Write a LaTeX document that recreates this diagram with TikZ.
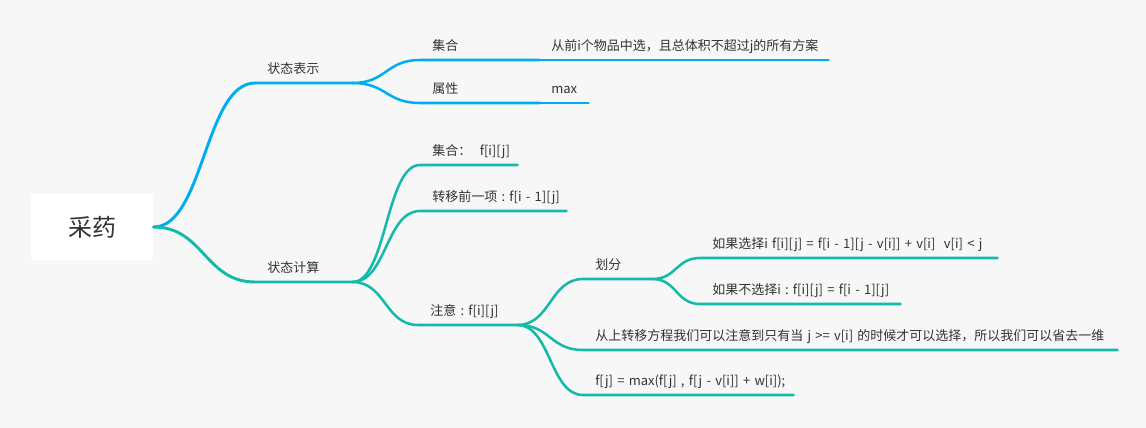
\documentclass[tikz,border=0pt]{standalone}
\usepackage{fontspec}
\setmainfont{Noto Sans CJK SC}
\usepackage{xcolor}
\usepackage{tikz}
\usetikzlibrary{positioning}

\definecolor{paper}{RGB}{247,247,247}
\definecolor{inkgray}{RGB}{51,51,51}
\definecolor{mapblue}{RGB}{0,174,239}
\definecolor{mapteal}{RGB}{20,185,170}

\newcommand{\widespaces}{\spaceskip 3.2pt\relax}

\begin{document}
\begin{tikzpicture}[
        x=0.75pt, y=-0.75pt,
        every node/.style={font=\fontsize{9.75pt}{12pt}\selectfont, text=inkgray},
        root/.style={fill=white, rounded corners=3pt, minimum width=92pt, minimum height=50pt, font=\fontsize{18pt}{22pt}\selectfont},
        topic/.style={anchor=south west, inner xsep=9pt, inner ysep=5pt, text height=8pt, text depth=2pt,
            execute at begin node={\hbox to #1\bgroup\widespaces}, execute at end node={\hss\egroup}},
        bluebranch/.style={draw=mapblue, line width=1.9pt, line cap=round},
        tealbranch/.style={draw=mapteal, line width=1.9pt, line cap=round},
    ]
        % Background
        \useasboundingbox (0,0) rectangle (1146,428);
        \fill[paper] (0,0) rectangle (1146,428);

        % Root
        \node (root) [root] at (92,227) {采药};

        % Upper branch
        \node (repr) [topic=54.75pt] at (255,83) {状态表示};
        \node (set) [topic=71.25pt] at (420,60) {集合};
        \node (setdesc) [topic=198.75pt] at (539,60) {从前i个物品中选，且总体积不超过j的所有方案};
        \node (attr) [topic=71.25pt] at (420,103) {属性};
        \node (attrval) [topic=18.75pt] at (539,103) {max};

        % Lower branch
        \node (calc) [topic=54.75pt] at (255,282) {状态计算};
        \node (calcset) [topic=54.75pt] at (420,165) {集合：~~f[i][j]};
        \node (prev) [topic=91.5pt] at (420,211) {转移前一项~:~f[i~-~1][j]};
        \node (note) [topic=56.25pt] at (418,325) {注意~:~f[i][j]};
        \node (split) [topic=33.75pt] at (583,279) {划分};
        \node (pick) [topic=204.75pt] at (700,258) {如果选择i~f[i][j]~=~f[i~-~1][j~-~v[i]]~+~v[i]~~v[i]~<~j};
        \node (skip) [topic=132pt] at (700,304) {如果不选择i~:~f[i][j]~=~f[i~-~1][j]};
        \node (hint) [topic=382.5pt] at (583,350) {从上转移方程我们可以注意到只有当~j~>=~v[i]~的时候才可以选择，所以我们可以省去一维};
        \node (final) [topic=139.5pt] at (583,395) {f[j]~=~max(f[j]~,~f[j~-~v[i]]~+~w[i]);};

        % --- Connectors ---
        % Root to the two main topics
        \draw [bluebranch, line width=2.2pt] (root.east) .. controls +(50,0) and +(-50,0) .. (repr.south west) -- (repr.south east);
        \draw [tealbranch, line width=2.2pt] (root.east) .. controls +(50,0) and +(-50,0) .. (calc.south west) -- (calc.south east);

        % Upper branch
        \draw [bluebranch] (repr.south east) .. controls +(34,0) and +(-34,0) .. (set.south west) -- (set.south east);
        \draw [bluebranch] (repr.south east) .. controls +(34,0) and +(-34,0) .. (attr.south west) -- (attr.south east);
        \draw [bluebranch] (set.south east) -- (setdesc.south west) -- (setdesc.south east);
        \draw [bluebranch] (attr.south east) -- (attrval.south west) -- (attrval.south east);

        % Lower branch
        \draw [tealbranch] (calc.south east) .. controls +(34,0) and +(-34,0) .. (calcset.south west) -- (calcset.south east);
        \draw [tealbranch] (calc.south east) .. controls +(34,0) and +(-34,0) .. (prev.south west) -- (prev.south east);
        \draw [tealbranch] (calc.south east) .. controls +(33,0) and +(-33,0) .. (note.south west) -- (note.south east);

        % Note and its children
        \draw [tealbranch] (note.south east) .. controls +(33,0) and +(-33,0) .. (split.south west) -- (split.south east);
        \draw [tealbranch] (note.south east) .. controls +(33,0) and +(-33,0) .. (hint.south west) -- (hint.south east);
        \draw [tealbranch] (note.south east) .. controls +(33,0) and +(-33,0) .. (final.south west) -- (final.south east);

        % Split into the two cases
        \draw [tealbranch] (split.south east) .. controls +(24,0) and +(-24,0) .. (pick.south west) -- (pick.south east);
        \draw [tealbranch] (split.south east) .. controls +(24,0) and +(-24,0) .. (skip.south west) -- (skip.south east);

    \end{tikzpicture}
\end{document}
